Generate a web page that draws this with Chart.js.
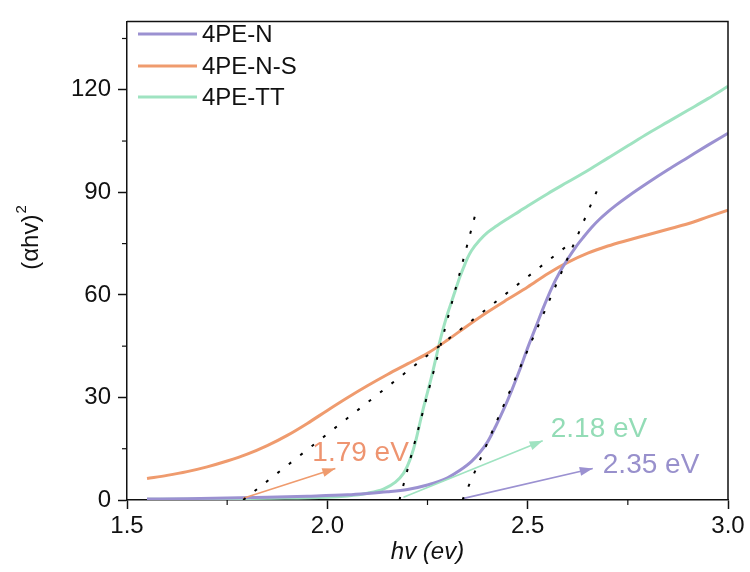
<!DOCTYPE html>
<html><head><meta charset="utf-8">
<script src="https://cdn.jsdelivr.net/npm/chart.js@4.4.0/dist/chart.umd.min.js"></script>
<style>html,body{margin:0;padding:0;background:#fff}canvas{display:block}</style>
</head><body>
<canvas id="c" width="750" height="572"></canvas>
<script>
// ---------- data ----------
const seriesNames = ['4PE-N', '4PE-N-S', '4PE-TT'];

const nX = [1.55,1.65,1.75,1.85,1.95,2.05,2.10,2.15,2.20,2.25,2.30,2.33,2.36,2.38,2.40,2.42,2.44,2.46,2.48,2.50,2.52,2.54,2.56,2.58,2.60,2.62,2.64,2.66,2.68,2.70,2.72,2.75,2.80,2.85,2.90,2.95,3.00];
const nY = [0.3,0.4,0.6,0.8,1.1,1.5,1.9,2.4,3.1,4.4,6.5,8.6,11.3,13.8,17,21.5,26.5,32,38,44.5,50.5,56.5,62,66.6,70.5,74,77,79.8,82.2,84.3,86.2,88.8,92.8,96.6,100.2,103.8,107.3];

const nsX = [1.55,1.60,1.65,1.70,1.75,1.80,1.85,1.90,1.95,2.00,2.05,2.10,2.15,2.20,2.25,2.30,2.35,2.40,2.45,2.50,2.55,2.60,2.65,2.70,2.75,2.80,2.85,2.90,2.95,3.00];
const nsY = [6.3,7.2,8.3,9.7,11.4,13.4,15.9,18.9,22.4,26.2,29.9,33.4,36.7,39.8,42.9,46.8,51,55,58.7,62.3,66.2,69.5,72.2,74.3,76,77.6,79.2,80.8,82.8,84.8];

const ttX = [1.55,1.70,1.85,2.00,2.05,2.10,2.14,2.17,2.19,2.20,2.21,2.22,2.23,2.24,2.25,2.26,2.27,2.28,2.29,2.30,2.31,2.32,2.33,2.34,2.35,2.36,2.38,2.40,2.42,2.45,2.48,2.50,2.55,2.60,2.65,2.70,2.75,2.80,2.85,2.90,2.95,3.00];
const ttY = [0.2,0.3,0.5,0.8,1.2,2.0,3.2,5.2,7.8,10,13,17,22,27,31.5,36,41,46,50.5,54.5,58,61.5,65,68,70.8,73,76,78.3,80,82.3,84.5,86,89.6,93,96.4,100,103.6,107.2,110.6,114,117.4,121];

// tangent (extrapolation) lines: [x0,y0,x1,y1]
const tangentN  = [2.3375, 0, 2.675, 91];
const tangentNS = [1.79, 0, 2.60, 74.5];
const tangentTT = [2.18, 0, 2.375, 86];

// band-gap annotations
const gapLabels = ['1.79 eV', '2.18 eV', '2.35 eV'];
const arrowStart = [[1.79, 0.5], [2.19, 0.8], [2.3375, 0.4]];
const arrowEnd   = [[2.02, 9.2], [2.5375, 17.3], [2.6625, 9.2]];
const labelAnchor = [[1.9625, 13.8], [2.5575, 20.8], [2.6875, 10.1]];

const xTicks = [1.5, 1.75, 2.0, 2.25, 2.5, 2.75, 3.0];
const xMajor = [1.5, 2.0, 2.5, 3.0];
const yTicks = [0, 15, 30, 45, 60, 75, 90, 105, 120, 135];
const yMajor = [0, 30, 60, 90, 120];

// ---------- styles ----------
const colN = '#9b91d1', colNS = '#ef9b6e', colTT = '#9fe3c1';
const txtCols = ['#ee9470', '#93dcb6', '#9890cc'];
const FONT = "'Liberation Sans', Arial, sans-serif";

const pts = (xs, ys) => xs.map((x, i) => ({x, y: ys[i]}));
const seg = a => [{x: a[0], y: a[1]}, {x: a[2], y: a[3]}];

const curve = (label, data, color) => ({
  label, data, borderColor: color, backgroundColor: color, borderWidth: 3,
  pointRadius: 0, tension: 0.4, cubicInterpolationMode: 'monotone', fill: false, order: 3
});
const dotted = data => ({
  label: '_tan', data, borderColor: '#000', borderWidth: 2, borderDash: [3, 11.5],
  pointRadius: 0, tension: 0, fill: false, order: 1
});
const arrowColors = [colNS, colTT, colN];
const arrowSets = gapLabels.map((g, i) => ({
  label: '_arrow', data: [{x: arrowStart[i][0], y: arrowStart[i][1]}, {x: arrowEnd[i][0], y: arrowEnd[i][1]}],
  borderColor: arrowColors[i], borderWidth: 1.6, pointRadius: 0, tension: 0, fill: false, order: 2, clip: false
}));

const datasets = [
  curve(seriesNames[0], pts(nX, nY), colN),
  curve(seriesNames[1], pts(nsX, nsY), colNS),
  curve(seriesNames[2], pts(ttX, ttY), colTT),
  dotted(seg(tangentNS)), dotted(seg(tangentTT)), dotted(seg(tangentN)),
  ...arrowSets
];

const isMajorX = v => xMajor.some(m => Math.abs(m - v) < 1e-6);
const isMajorY = v => yMajor.some(m => Math.abs(m - v) < 1e-6);

const decor = {
  id: 'decor',
  afterDatasetsDraw(chart) {
    const {ctx, chartArea: a, scales: {x, y}} = chart;
    ctx.save();
    // frame top & right
    ctx.strokeStyle = '#111'; ctx.lineWidth = 1.5;
    ctx.beginPath();
    ctx.moveTo(a.left, a.top); ctx.lineTo(a.right, a.top); ctx.lineTo(a.right, a.bottom);
    ctx.stroke();
    // minor ticks
    ctx.lineWidth = 1.2;
    xTicks.filter(v => !isMajorX(v)).forEach(v => {
      const px = x.getPixelForValue(v);
      ctx.beginPath(); ctx.moveTo(px, a.bottom); ctx.lineTo(px, a.bottom + 5); ctx.stroke();
    });
    yTicks.filter(v => !isMajorY(v)).forEach(v => {
      const py = y.getPixelForValue(v);
      ctx.beginPath(); ctx.moveTo(a.left, py); ctx.lineTo(a.left - 5, py); ctx.stroke();
    });
    // arrowheads + labels
    gapLabels.forEach((g, i) => {
      const x0 = x.getPixelForValue(arrowStart[i][0]), y0 = y.getPixelForValue(arrowStart[i][1]);
      const x1 = x.getPixelForValue(arrowEnd[i][0]), y1 = y.getPixelForValue(arrowEnd[i][1]);
      const ang = Math.atan2(y1 - y0, x1 - x0);
      const L = 13, W = 4.5;
      ctx.fillStyle = arrowColors[i];
      ctx.beginPath();
      ctx.moveTo(x1, y1);
      ctx.lineTo(x1 - L * Math.cos(ang) + W * Math.sin(ang), y1 - L * Math.sin(ang) - W * Math.cos(ang));
      ctx.lineTo(x1 - L * Math.cos(ang) - W * Math.sin(ang), y1 - L * Math.sin(ang) + W * Math.cos(ang));
      ctx.closePath(); ctx.fill();
      ctx.font = '28px ' + FONT;
      ctx.fillStyle = txtCols[i];
      ctx.textAlign = 'left'; ctx.textBaseline = 'middle';
      ctx.fillText(g, x.getPixelForValue(labelAnchor[i][0]), y.getPixelForValue(labelAnchor[i][1]));
    });
    // legend
    const rowsY = [34, 66, 97];
    [0, 1, 2].forEach(i => {
      const ds = chart.data.datasets[i];
      ctx.strokeStyle = ds.borderColor; ctx.lineWidth = 3;
      ctx.beginPath(); ctx.moveTo(138, rowsY[i]); ctx.lineTo(197, rowsY[i]); ctx.stroke();
      ctx.font = '24px ' + FONT; ctx.fillStyle = '#111';
      ctx.textAlign = 'left'; ctx.textBaseline = 'middle';
      ctx.fillText(ds.label, 202, rowsY[i] + 1);
    });
    // axis titles
    ctx.fillStyle = '#111';
    ctx.font = 'italic 24px ' + FONT;
    ctx.textAlign = 'center'; ctx.textBaseline = 'middle';
    ctx.fillText('hv (ev)', (a.left + a.right) / 2, 552);
    ctx.save();
    ctx.translate(31, 238); ctx.rotate(-Math.PI / 2);
    ctx.font = '24px ' + FONT;
    const main = '(αhv)';
    const w = ctx.measureText(main).width;
    ctx.font = '15px ' + FONT;
    const w2 = ctx.measureText('2').width;
    const startX = -(w + w2) / 2;
    ctx.textAlign = 'left';
    ctx.font = '24px ' + FONT;
    ctx.fillText(main, startX, 0);
    ctx.font = '15px ' + FONT;
    ctx.fillText('2', startX + w + 1, -9);
    ctx.restore();
    ctx.restore();
  }
};

new Chart(document.getElementById('c'), {
  type: 'line',
  data: {datasets},
  options: {
    responsive: false, animation: false, devicePixelRatio: 1,
    layout: {padding: {left: 0, top: 14, right: 22, bottom: 0}},
    plugins: {legend: {display: false}, tooltip: {enabled: false}},
    scales: {
      x: {
        type: 'linear', min: 1.5, max: 3.0,
        afterFit: s => { s.height = 72; },
        afterBuildTicks: s => { s.ticks = xTicks.map(v => ({value: v})); },
        ticks: {
          autoSkip: false, maxRotation: 0, padding: 3, color: '#111',
          font: {family: FONT, size: 24},
          callback: v => isMajorX(v) ? v.toFixed(1) : ''
        },
        grid: {drawOnChartArea: false, drawTicks: true, tickLength: 9, tickWidth: 1.5,
          tickColor: c => (c.tick && isMajorX(c.tick.value)) ? '#111' : 'rgba(0,0,0,0)'},
        border: {display: true, color: '#111', width: 1.5}
      },
      y: {
        type: 'linear', min: 0, max: 140,
        afterFit: s => { s.width = 127; },
        afterBuildTicks: s => { s.ticks = yTicks.map(v => ({value: v})); },
        ticks: {
          autoSkip: false, padding: 7, color: '#111',
          font: {family: FONT, size: 24},
          callback: v => isMajorY(v) ? String(v) : ''
        },
        grid: {drawOnChartArea: false, drawTicks: true, tickLength: 9, tickWidth: 1.5,
          tickColor: c => (c.tick && isMajorY(c.tick.value)) ? '#111' : 'rgba(0,0,0,0)'},
        border: {display: true, color: '#111', width: 1.5}
      }
    }
  },
  plugins: [decor]
});
</script>
</body></html>
